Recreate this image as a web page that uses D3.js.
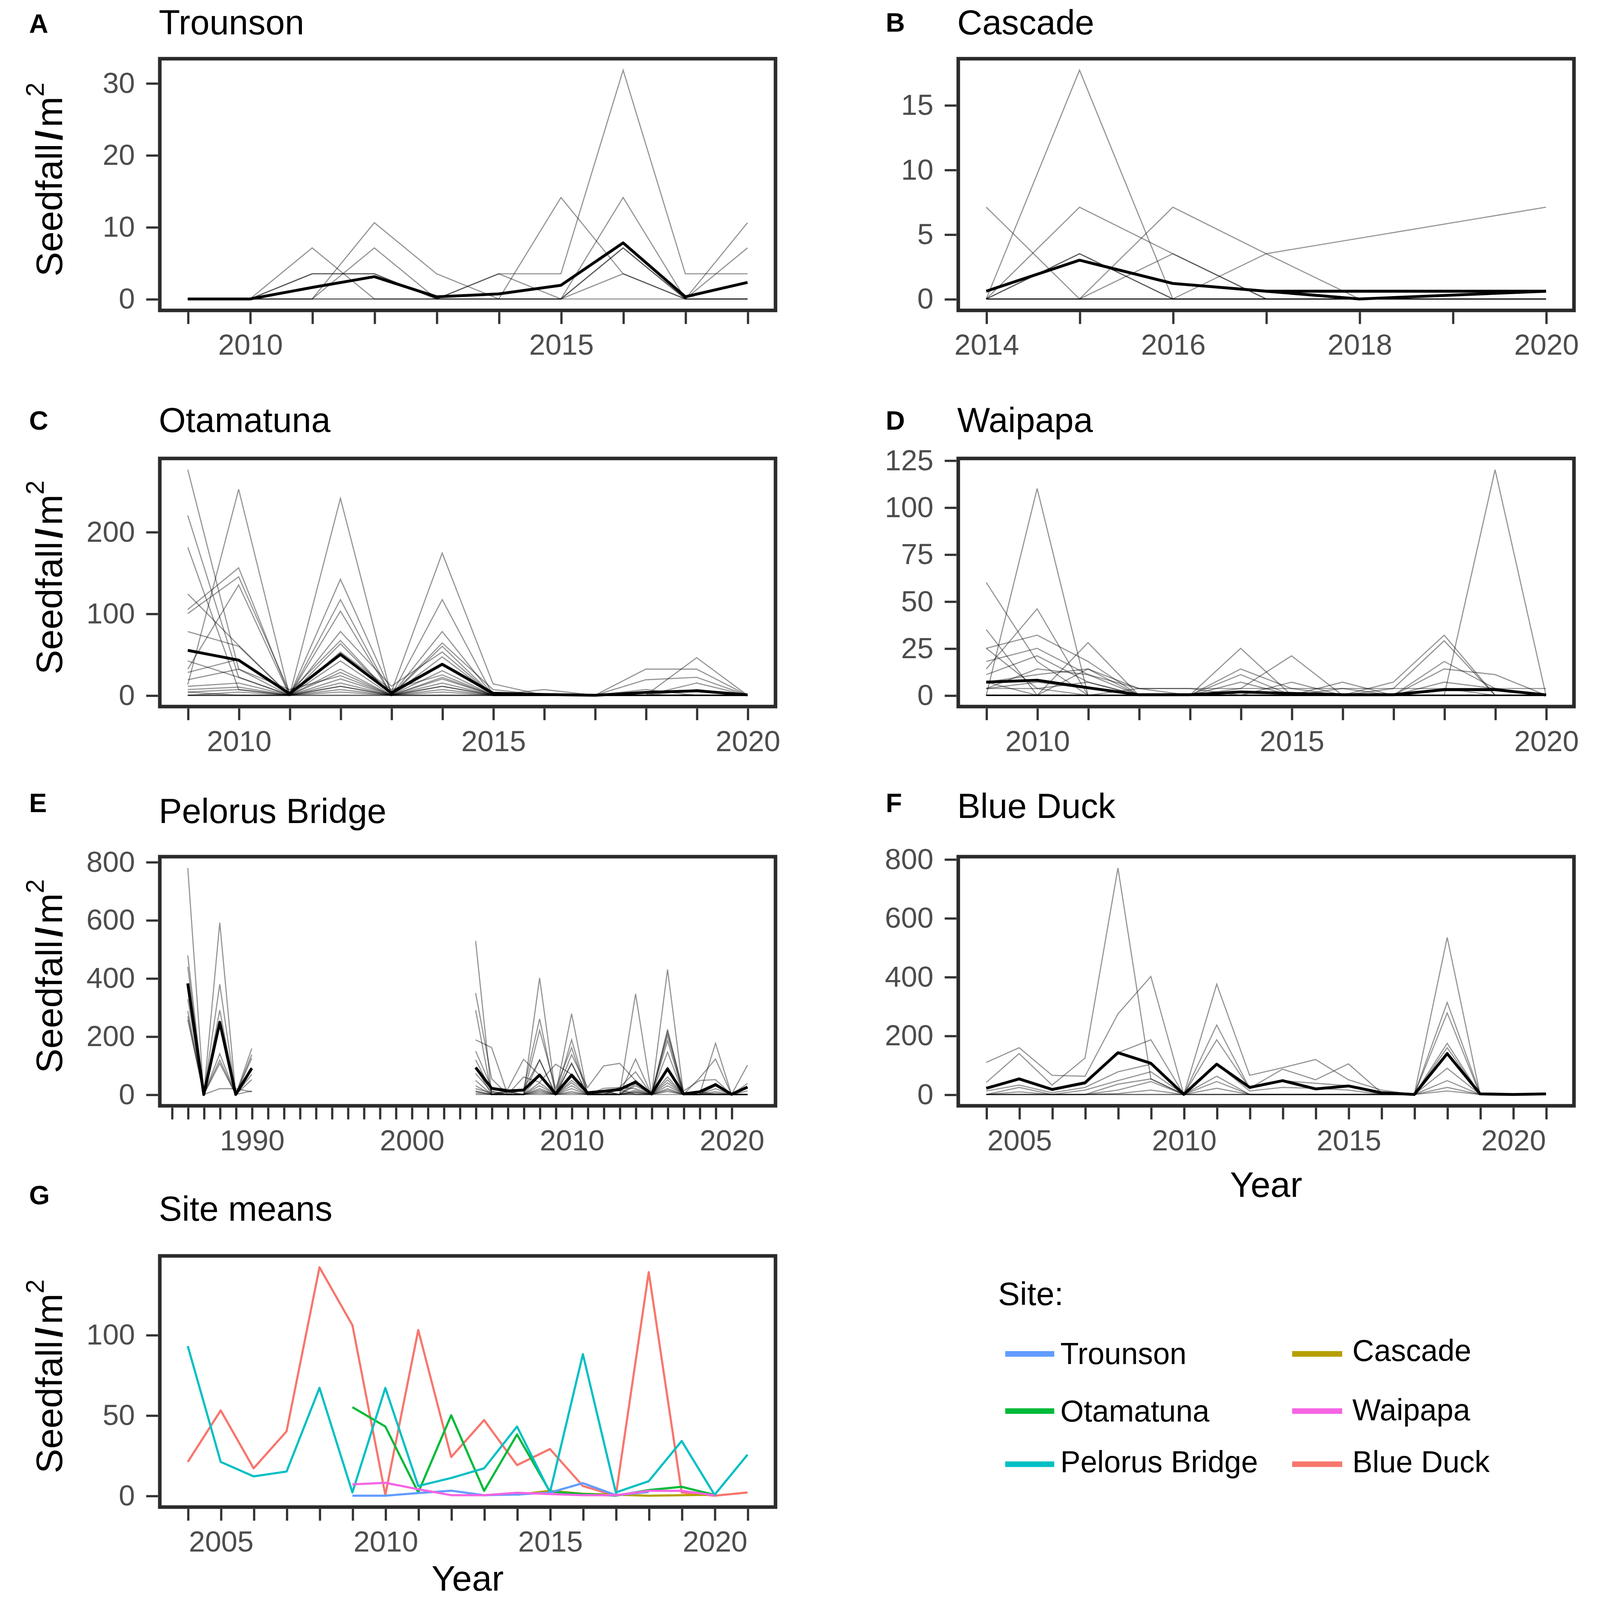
<!DOCTYPE html>
<html lang="en">
<head>
    <meta charset="UTF-8">
    <title>Seedfall per site</title>
    <style>
        body,html{
            margin:0;
            padding:0;
            border:0;
            width:100%;
            height:100%;
            overflow:hidden;
            background:#fff;
        }
        svg{display:block;width:100vw;height:100vh;}
    </style>
</head>
<body>
    <svg id="chart" viewBox="0 0 1530 1567" preserveAspectRatio="xMidYMid meet"></svg>
    <script type="text/javascript" src="https://cdnjs.cloudflare.com/ajax/libs/d3/7.8.5/d3.min.js"></script>
    <script type="text/javascript">
        // ---- Trounson ----
        var trounsonYears = [2009,2010,2011,2012,2013,2014,2015,2016,2017,2018];
        var trounsonTraps = [
            [0,0,3.5,3.5,0,3.5,3.5,31.8,3.5,3.5],
            [0,0,7.1,0,0,0,14.1,3.5,0,10.6],
            [0,0,0,10.6,3.5,0,0,14.1,0,7.1],
            [0,0,0,7.1,0,0,0,7.1,0,0],
            [0,0,3.5,3.5,0,3.5,0,3.5,0,0],
            [0,0,0,0,0,0,0,7.1,0,0],
            [0,0,0,0,0,0,0,0,0,0]
        ];
        var trounsonMean = [0,0,1.6,3.1,0.3,0.7,1.9,7.8,0.3,2.3];

        // ---- Cascade ----
        var cascadeYears = [2014,2015,2016,2017,2018,2019,2020];
        var cascadeTraps = [
            [7.1,0,3.5,0,0,0,0],
            [0,17.7,0,3.5,null,null,7.1],
            [0,7.1,3.5,0,0,0,0],
            [0,3.5,0,0,0,0,0],
            [0,3.5,0,0,0,0,0],
            [0,0,7.1,3.5,0,0,0],
            [0,0,0,0,0,0,0],
            [0,0,0,0,0,0,0],
            [0,0,0,0,0,0,0],
            [0,0,0,0,0,0,0]
        ];
        var cascadeMean = [0.6,3.0,1.2,0.6,0,null,0.6];
        var cascadeMeanFlat = [null,null,null,0.6,0.6,0.6,0.6];

        // ---- Otamatuna ----
        var otamatunaYears = [2009,2010,2011,2012,2013,2014,2015,2016,2017,2018,2019,2020];
        var otamatunaTraps = [
            [276,32,0,241,0,117,0,0,0,0,0,0],
            [220,22,0,142,4,174,14,0,0,32,32,0],
            [181,7,0,117,0,78,0,0,0,0,46,0],
            [124,61,0,103,0,64,7,0,0,19,22,0],
            [105,156,0,78,11,53,0,0,0,0,15,0],
            [100,145,4,67,0,47,0,7,0,7,0,0],
            [78,60,0,63,0,39,0,0,0,0,7,0],
            [13,252,0,53,7,25,0,0,0,0,0,0],
            [32,135,0,42,0,20,0,0,0,0,0,0],
            [28,44,0,28,0,11,0,0,0,0,0,0],
            [19,32,7,24,0,60,0,0,0,0,0,0],
            [42,22,0,20,0,30,0,0,0,0,0,0],
            [11,15,0,15,0,22,0,0,0,0,0,0],
            [7,10,0,11,0,15,0,0,0,0,0,0],
            [4,7,0,7,0,11,0,0,0,0,0,0],
            [0,4,0,4,0,7,0,0,0,0,0,0],
            [0,0,0,32,0,4,0,0,0,0,0,0],
            [4,0,0,0,0,0,0,0,0,0,0,0],
            [0,0,0,0,0,0,0,0,0,0,0,0],
            [0,0,0,11,0,0,0,0,0,0,0,0]
        ];
        var otamatunaMean = [55,43,2,50,3,38,2.5,1,0,3.5,5.5,0.5];

        // ---- Waipapa ----
        var waipapaYears = [2009,2010,2011,2012,2013,2014,2015,2016,2017,2018,2019,2020];
        var waipapaTraps = [
            [60,18,0,0,0,0,0,0,0,0,0,0],
            [35,0,14,0,0,0,0,0,0,0,0,0],
            [0,110,0,0,0,0,0,0,0,0,0,0],
            [25,32,18,0,0,0,0,0,0,0,0,0],
            [18,25,11,3.6,0,0,0,0,0,0,0,0],
            [14,46,0,0,0,0,0,0,0,0,0,0],
            [11,21,7,0,0,0,0,0,0,0,0,0],
            [7,0,28,0,0,0,0,0,0,0,0,0],
            [7,11,14,3.6,3.6,0,0,0,0,0,0,0],
            [3.6,14,11,0,0,0,0,0,0,0,0,0],
            [3.6,7,3.6,0,0,0,0,0,0,0,0,0],
            [25,3.6,7,0,0,0,0,0,0,0,0,0],
            [0,0,0,3.6,3.6,3.6,3.6,3.6,3.6,3.6,3.6,3.6],
            [0,0,0,0,0,25,0,7,0,3.6,0,0],
            [0,0,0,0,0,14,3.6,0,7,32,0,0],
            [0,0,0,0,0,11,0,0,3.6,29,0,0],
            [0,0,0,0,0,7,0,3.6,0,18,3.6,0],
            [0,0,0,0,0,3.6,21,0,0,14,11,0],
            [0,0,0,0,0,0,7,0,0,0,120,0],
            [0,0,0,0,0,0,0,0,0,7,3.6,0],
            [3.6,3.6,0,0,0,0,0,0,0,0,0,0],
            [0,0,0,0,0,0,0,0,0,0,0,0]
        ];
        var waipapaMean = [7,8,4,0.3,0.3,1.8,1,0.3,0.3,3,3,0.2];

        // ---- Pelorus Bridge (two survey periods) ----
        var pelorusEarlyYears = [1986,1987,1988,1989,1990];
        var pelorusEarlyTraps = [
            [779,0,379,0,93],
            [478,0,591,0,158],
            [439,0,290,0,137],
            [328,0,254,0,125],
            [287,0,140,0,69],
            [269,0,119,0,51],
            [257,0,107,0,12],
            [null,0,20,20,9]
        ];
        var pelorusEarlyMean = [382,0,248,0,90];
        var pelorusLateYears = [2004,2005,2006,2007,2008,2009,2010,2011,2012,2013,2014,2015,2016,2017,2018,2019,2020,2021];
        var pelorusLateTraps = [
            [528,0,0,0,401,0,278,0,0,0,346,0,430,0,0,176,0,101],
            [349,54,0,18,260,0,188,0,0,0,122,0,224,0,57,122,0,38],
            [290,0,9,0,221,21,161,0,21,24,78,0,215,12,48,51,0,24],
            [188,161,0,0,119,0,137,24,98,107,48,0,203,0,0,38,0,12],
            [149,24,18,121,66,0,107,0,12,0,36,0,185,0,9,0,0,0],
            [119,12,0,60,42,104,69,0,0,0,48,0,146,0,0,0,0,0],
            [93,0,15,18,119,0,48,6,0,17,0,0,93,0,0,0,0,0],
            [72,9,0,0,66,0,107,0,11,0,30,0,60,0,0,20,0,0],
            [48,0,9,0,40,0,60,0,0,24,20,0,50,0,0,30,0,0],
            [30,0,0,0,30,0,40,0,0,0,15,0,40,0,0,0,0,0],
            [12,0,0,0,20,0,30,0,0,0,10,0,30,0,0,10,0,0],
            [20,5,0,0,15,0,20,0,5,0,8,0,20,0,0,0,0,0],
            [10,0,0,0,10,0,10,0,0,0,0,0,15,0,0,5,0,0],
            [5,0,0,0,5,0,5,0,0,0,5,0,10,0,0,0,0,0],
            [0,0,0,0,0,0,0,0,0,0,0,0,0,0,0,0,0,0]
        ];
        var pelorusLateMean = [93,21,12,15,67,2,67,6,11,17,43,2,88,2,9,34,0.5,25.5];

        // ---- Blue Duck ----
        var blueDuckYears = [2004,2005,2006,2007,2008,2009,2010,2011,2012,2013,2014,2015,2016,2017,2018,2019,2020,2021];
        var blueDuckTraps = [
            [41,139,32,124,770,53,0,186,21,86,50,104,6,0,534,0,0,3],
            [109,159,65,62,274,401,0,375,65,91,119,50,15,0,313,3,0,0],
            [21,56,15,35,142,186,0,236,21,47,38,30,0,0,277,0,0,3],
            [12,32,6,24,77,103,0,103,12,24,21,15,0,0,174,0,0,0],
            [0,24,0,15,47,77,0,62,0,0,0,0,0,0,159,0,0,0],
            [0,9,0,0,35,53,0,44,0,0,0,0,0,0,142,0,0,0],
            [0,0,0,0,15,44,0,21,0,0,0,0,0,0,89,0,0,0],
            [0,0,0,0,3,15,0,0,0,0,0,0,0,0,47,0,0,0],
            [0,0,0,0,0,0,0,0,0,0,0,0,0,0,24,0,0,0],
            [0,0,0,0,0,0,0,0,0,0,0,0,0,0,12,0,0,0]
        ];
        var blueDuckMean = [21,53,17,40,142,106,0.5,103,24,47,19,29,6,0,139,2,0,2];

        // ---- tick positions ----
        var recentYears = [2004,2005,2006,2007,2008,2009,2010,2011,2012,2013,2014,2015,2016,2017,2018,2019,2020,2021];
        var pelorusTickYears = d3.range(1985, 2021);

        // ---- site colours (legend + panel G) ----
        var siteNames  = ["Blue Duck","Cascade","Otamatuna","Pelorus Bridge","Trounson","Waipapa"];
        var siteColors = ["#F8766D","#B79F00","#00BA38","#00BFC4","#619CFF","#F564E3"];

        var FONT = "'Liberation Sans', Arial, Helvetica, sans-serif";
        var cols = [[138, 741], [920, 1523]];
        var rows = [[57.5, 304], [449, 692], [839, 1083], [1230, 1476]];

        var svg = d3.select("#chart").style("font-family", FONT);

        var panels = [
            {letter:"A", title:"Trounson", col:0, row:0, letterY:32, titleY:33.5,
             groups:[{years:trounsonYears, traps:trounsonTraps, means:[trounsonMean]}],
             xTicks:trounsonYears, xLabels:[2010,2015], yTicks:[0,10,20,30]},
            {letter:"B", title:"Cascade", col:1, row:0, letterY:31, titleY:33.5,
             groups:[{years:cascadeYears, traps:cascadeTraps, means:[cascadeMeanFlat, cascadeMean]}],
             xTicks:cascadeYears, xLabels:[2014,2016,2018,2020], yTicks:[0,5,10,15]},
            {letter:"C", title:"Otamatuna", col:0, row:1, letterY:421, titleY:423,
             groups:[{years:otamatunaYears, traps:otamatunaTraps, means:[otamatunaMean]}],
             xTicks:otamatunaYears, xLabels:[2010,2015,2020], yTicks:[0,100,200]},
            {letter:"D", title:"Waipapa", col:1, row:1, letterY:421, titleY:423,
             groups:[{years:waipapaYears, traps:waipapaTraps, means:[waipapaMean]}],
             xTicks:waipapaYears, xLabels:[2010,2015,2020], yTicks:[0,25,50,75,100,125]},
            {letter:"E", title:"Pelorus Bridge", col:0, row:2, letterY:795.5, titleY:806,
             groups:[{years:pelorusEarlyYears, traps:pelorusEarlyTraps, means:[pelorusEarlyMean]},
                     {years:pelorusLateYears, traps:pelorusLateTraps, means:[pelorusLateMean]}],
             xTicks:pelorusTickYears, xLabels:[1990,2000,2010,2020], yTicks:[0,200,400,600,800]},
            {letter:"F", title:"Blue Duck", col:1, row:2, letterY:795.5, titleY:801,
             groups:[{years:blueDuckYears, traps:blueDuckTraps, means:[blueDuckMean]}],
             xTicks:recentYears, xLabels:[2005,2010,2015,2020], yTicks:[0,200,400,600,800]}
        ];

        function boxOf(col, row){
            return {x0:cols[col][0], x1:cols[col][1], y0:rows[row][0], y1:rows[row][1]};
        }

        // ggplot-like 5% padding on both axes
        function makeScales(b, years, values){
            var ex = d3.extent(years);
            var ey = [Math.min(0, d3.min(values)), d3.max(values)];
            var px = (ex[1]-ex[0])*0.05, py = (ey[1]-ey[0])*0.05;
            return {
                x: d3.scaleLinear().domain([ex[0]-px, ex[1]+px]).range([b.x0, b.x1]),
                y: d3.scaleLinear().domain([ey[0]-py, ey[1]+py]).range([b.y1, b.y0])
            };
        }

        function pairs(years, vals){
            return years.map(function(yr, i){ return [yr, vals[i]]; })
                        .filter(function(d){ return d[1] != null; });
        }

        function drawAxes(p, b, s){
            var ya = svg.append("g").attr("transform", "translate(" + (b.x0 - 1.8) + ",0)")
                .call(d3.axisLeft(s.y).tickValues(p.yTicks).tickSize(11.5).tickPadding(11));
            var xa = svg.append("g").attr("transform", "translate(0," + (b.y1 + 1.8) + ")")
                .call(d3.axisBottom(s.x).tickValues(p.xTicks).tickSize(11.5).tickPadding(10)
                    .tickFormat(function(d){ return p.xLabels.indexOf(d) >= 0 ? d : ""; }));
            [ya, xa].forEach(function(a){
                a.select(".domain").remove();
                a.selectAll(".tick line").attr("stroke", "#333").attr("stroke-width", 2.2);
                a.selectAll(".tick text").attr("fill", "#4d4d4d")
                    .style("font-size", "28.5px").style("font-family", FONT);
            });
        }

        function drawLabels(p, b){
            svg.append("text").attr("x", p.col ? 849 : 10).attr("y", p.letterY)
                .style("font-size", "26px").style("font-weight", "bold").text(p.letter);
            svg.append("text").attr("x", b.x0 - 1).attr("y", p.titleY)
                .style("font-size", "34px").text(p.title);
            if(p.col === 0){
                var t = svg.append("text")
                    .attr("transform", "translate(42.5," + ((b.y0 + b.y1)/2 - 5) + ") rotate(-90)")
                    .attr("text-anchor", "middle").style("font-size", "36px");
                t.append("tspan").text("Seedfall");
                t.append("tspan").attr("dx", 3).style("font-weight", "900").text("/");
                t.append("tspan").attr("dx", 3).text("m");
                t.append("tspan").attr("dy", -18).style("font-size", "25px").text("2");
            }
        }

        function drawFrame(b){
            svg.append("rect").attr("x", b.x0).attr("y", b.y0)
                .attr("width", b.x1 - b.x0).attr("height", b.y1 - b.y0)
                .attr("fill", "none").attr("stroke", "#2b2b2b").attr("stroke-width", 3.5);
        }

        panels.forEach(function(p){
            var b = boxOf(p.col, p.row);
            var allYears = [], allVals = [];
            p.groups.forEach(function(g){
                allYears = allYears.concat(g.years);
                g.traps.forEach(function(t){ allVals = allVals.concat(t.filter(function(v){ return v != null; })); });
            });
            var s = makeScales(b, allYears, allVals);
            var line = d3.line().x(function(d){ return s.x(d[0]); }).y(function(d){ return s.y(d[1]); });

            var g = svg.append("g");
            p.groups.forEach(function(grp){
                g.selectAll(null).data(grp.traps).enter().append("path")
                    .attr("d", function(t){ return line(pairs(grp.years, t)); })
                    .attr("fill", "none").attr("stroke", "#000")
                    .attr("stroke-opacity", 0.42).attr("stroke-width", 1.1);
            });
            p.groups.forEach(function(grp){
                g.selectAll(null).data(grp.means).enter().append("path")
                    .attr("d", function(m){ return line(pairs(grp.years, m)); })
                    .attr("fill", "none").attr("stroke", "#000")
                    .attr("stroke-width", 2.8).attr("stroke-linejoin", "round");
            });

            drawAxes(p, b, s);
            drawFrame(b);
            drawLabels(p, b);
        });

        // ---- Panel G: site means ----
        var siteSeries = [
            {years:blueDuckYears, mean:blueDuckMean},
            {years:cascadeYears, mean:cascadeMean},
            {years:otamatunaYears, mean:otamatunaMean},
            {years:pelorusLateYears, mean:pelorusLateMean},
            {years:trounsonYears, mean:trounsonMean},
            {years:waipapaYears, mean:waipapaMean}
        ];
        var pG = {letter:"G", title:"Site means", col:0, row:3, letterY:1179.5, titleY:1195.5,
                  xTicks:recentYears, xLabels:[2005,2010,2015,2020], yTicks:[0,50,100]};
        var bG = boxOf(0, 3);
        var gYears = [], gVals = [];
        siteSeries.forEach(function(ss){
            gYears = gYears.concat(ss.years);
            gVals = gVals.concat(ss.mean.filter(function(v){ return v != null; }));
        });
        var sG = makeScales(bG, gYears, gVals);
        var lineG = d3.line().x(function(d){ return sG.x(d[0]); }).y(function(d){ return sG.y(d[1]); });
        svg.append("g").selectAll("path").data(siteSeries).enter().append("path")
            .attr("d", function(ss){ return lineG(pairs(ss.years, ss.mean)); })
            .attr("fill", "none")
            .attr("stroke", function(ss, i){ return siteColors[i]; })
            .attr("stroke-width", 2.1).attr("stroke-linejoin", "round");
        drawAxes(pG, bG, sG);
        drawFrame(bG);
        drawLabels(pG, bG);

        // ---- x axis titles ----
        svg.append("text").attr("x", (cols[1][0] + cols[1][1])/2).attr("y", 1172)
            .attr("text-anchor", "middle").style("font-size", "35px").text("Year");
        svg.append("text").attr("x", (cols[0][0] + cols[0][1])/2).attr("y", 1558)
            .attr("text-anchor", "middle").style("font-size", "35px").text("Year");

        // ---- legend ----
        var legendOrder = ["Trounson","Cascade","Otamatuna","Waipapa","Pelorus Bridge","Blue Duck"];
        var legendKeyX = [[966, 1014], [1247, 1296]];
        var legendTextX = [1020, 1306];
        var legendKeyY = [1326, 1382, 1434];
        var legendTextY = [[1336, 1333], [1392, 1391], [1442, 1442]];

        svg.append("text").attr("x", 959).attr("y", 1278).style("font-size", "32px").text("Site:");
        var items = svg.append("g").selectAll("g").data(legendOrder).enter().append("g");
        items.append("line")
            .attr("x1", function(d, i){ return legendKeyX[i % 2][0]; })
            .attr("x2", function(d, i){ return legendKeyX[i % 2][1]; })
            .attr("y1", function(d, i){ return legendKeyY[Math.floor(i / 2)]; })
            .attr("y2", function(d, i){ return legendKeyY[Math.floor(i / 2)]; })
            .attr("stroke", function(d){ return siteColors[siteNames.indexOf(d)]; })
            .attr("stroke-width", 5.5);
        items.append("text")
            .attr("x", function(d, i){ return legendTextX[i % 2]; })
            .attr("y", function(d, i){ return legendTextY[Math.floor(i / 2)][i % 2]; })
            .style("font-size", "29.5px")
            .text(function(d){ return d; });
    </script>
</body>
</html>
